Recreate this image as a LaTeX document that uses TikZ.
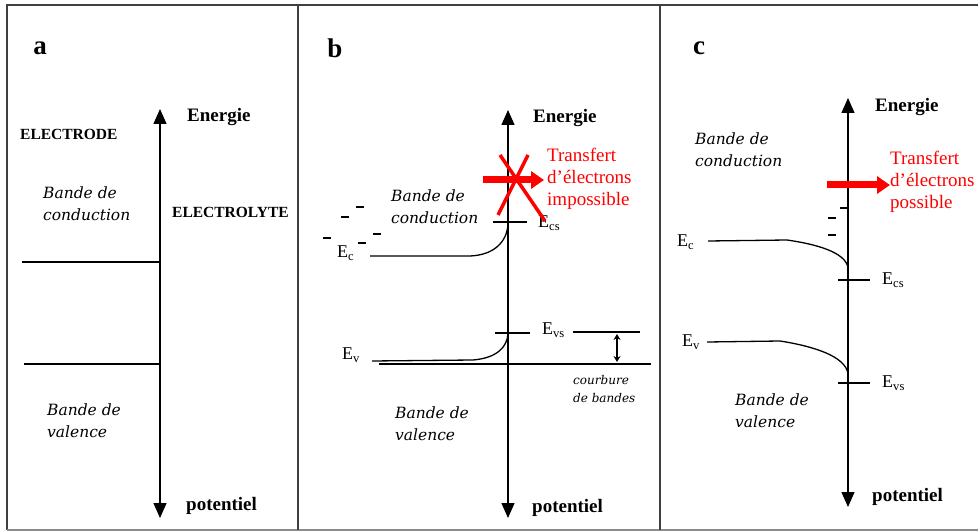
\documentclass[tikz,border=0pt]{standalone}
\usepackage{fontspec}
\setmainfont{Liberation Serif}
\newfontfamily\dvs{DejaVu Serif}
\usetikzlibrary{arrows.meta}
\begin{document}
\begin{tikzpicture}[x=1pt,y=-1pt,
  frame/.style={line width=1.3pt, draw=black!75},
  axis/.style={line width=1.4pt, {Triangle[width=13pt,length=15pt]}-{Triangle[width=13pt,length=15pt]}},
  band/.style={line width=1.3pt},
  tick/.style={line width=1.2pt},
  panel/.style={font=\fontsize{27}{28}\selectfont\bfseries, inner sep=0},
  axlbl/.style={font=\fontsize{19}{22}\selectfont\bfseries, anchor=west, inner sep=0},
  caps/.style={font=\fontsize{15.5}{18}\selectfont\bfseries, anchor=west, inner sep=0},
  itl/.style={font=\dvs\itshape\fontsize{15.5}{22}\selectfont, anchor=west, inner sep=0, align=left},
  small/.style={font=\dvs\itshape\fontsize{12}{18}\selectfont, anchor=west, inner sep=0, align=left},
  elbl/.style={font=\fontsize{18}{20}\selectfont, anchor=west, inner sep=0},
  redtxt/.style={font=\fontsize{19}{22}\selectfont, text=red, anchor=west, inner sep=0, align=left},
  redarrow/.style={draw=red, line width=7pt, -{Triangle[width=17pt,length=13pt]}},
  cross/.style={draw=red, line width=3.5pt},
  minus/.style={line width=1.3pt}
]
\useasboundingbox (0,0) rectangle (978,532);

% frame
\draw[frame] (7,530) -- (7,5) -- (978,5);
\draw[frame, draw=black!45] (7,530) -- (978,530);
\draw[frame] (298,5) -- (298,530);
\draw[frame] (660,5) -- (660,530);

% ================= panel a =================
\node[panel] (la) at (40,48) {a};
\coordinate (aT) at (160,109);
\coordinate (aB) at (160,518);
\draw[axis] (aT) -- (aB);
\node[axlbl] (aE) at (187,117) {Energie};
\node[axlbl] (aP) at (186,506) {potentiel};
\node[caps] (aEl) at (20,134) {ELECTRODE};
\node[caps] (aEy) at (172,212) {ELECTROLYTE};
\node[itl] (aBc) at (43,204) {Bande de\\conduction};
\node[itl] (aBv) at (47,421) {Bande de\\valence};
\coordinate (ac1) at (22,262); \coordinate (ac2) at (160,262);
\coordinate (av1) at (24,364); \coordinate (av2) at (160,364);
\draw[band] (ac1) -- (ac2);
\draw[band] (av1) -- (av2);

% ================= panel b =================
\node[panel] (lb) at (335,48) {b};
\coordinate (bT) at (508,110);
\coordinate (bB) at (508,518);
\draw[axis] (bT) -- (bB);
\node[axlbl] (bE) at (533,118) {Energie};
\node[axlbl] (bP) at (532,508) {potentiel};
\node[itl] (bBc) at (391,207) {Bande de\\conduction};
\node[itl] (bBv) at (395,424) {Bande de\\valence};
\node[small] (bCb) at (573,389) {courbure\\de bandes};
\node[redtxt] (bTr) at (547,179) {Transfert\\d’électrons\\impossible};
% conduction band
\coordinate (bc0) at (370,256); \coordinate (bc1) at (470,256); \coordinate (bcs) at (508,224);
\draw[band] (bc0) -- (bc1) .. controls (494,255) and (507,242) .. (bcs);
\coordinate (bk1) at (493,222); \coordinate (bk2) at (527,222);
\draw[tick] (bk1) -- (bk2);
\node[elbl] (bEcs) at (538,223) {E\textsubscript{cs}};
\node[elbl] (bEc) at (337,253) {E\textsubscript{c}};
% minus signs
\foreach \x/\y [count=\i] in {356/207, 341/217, 323/238, 358/243, 373/234} {
  \coordinate (bm\i a) at (\x,\y); \coordinate (bm\i b) at (\x+8,\y);
  \draw[minus] (bm\i a) -- (bm\i b);
}
% valence band
\coordinate (bv0) at (372,361); \coordinate (bv1) at (473,360); \coordinate (bvs) at (508,334);
\draw[band] (bv0) -- (bv1) .. controls (497,358) and (507,347) .. (bvs);
\coordinate (bq1) at (495,333); \coordinate (bq2) at (530,333);
\draw[tick] (bq1) -- (bq2);
\node[elbl] (bEvs) at (542,330) {E\textsubscript{vs}};
\node[elbl] (bEv) at (342,355) {E\textsubscript{v}};
\coordinate (br1) at (573,332); \coordinate (br2) at (640,332);
\draw[tick] (br1) -- (br2);
\coordinate (bl1) at (379,364); \coordinate (bl2) at (651,364);
\draw[tick] (bl1) -- (bl2);
\coordinate (bd1) at (617,334); \coordinate (bd2) at (617,362);
\draw[line width=1.2pt, {Stealth[length=6pt,width=7pt]}-{Stealth[length=6pt,width=7pt]}] (bd1) -- (bd2);
% red arrow and cross
\coordinate (bra) at (483,180); \coordinate (brb) at (544,180);
\draw[redarrow] (bra) -- (brb);
\coordinate (bx1) at (500,155); \coordinate (bx2) at (545,221);
\coordinate (bx3) at (528,155); \coordinate (bx4) at (498,215);
\draw[cross] (bx1) -- (bx2);
\draw[cross] (bx3) -- (bx4);

% ================= panel c =================
\node[panel] (lc) at (699,48) {c};
\coordinate (cT) at (848,98);
\coordinate (cB) at (848,507);
\draw[axis] (cT) -- (cB);
\node[axlbl] (cE) at (875,107) {Energie};
\node[axlbl] (cP) at (872,497) {potentiel};
\node[itl] (cBc) at (695,150) {Bande de\\conduction};
\node[itl] (cBv) at (735,411) {Bande de\\valence};
\node[redtxt] (cTr) at (890,182) {Transfert\\d’électrons\\possible};
\coordinate (cra) at (827,185); \coordinate (crb) at (890,185);
\draw[redarrow] (cra) -- (crb);
% conduction band
\coordinate (cc0) at (708,241); \coordinate (cc1) at (787,240); \coordinate (ccs) at (848,268);
\draw[band] (cc0) -- (cc1) .. controls (815,244) and (846,252) .. (ccs);
\node[elbl] (cEc) at (677,242) {E\textsubscript{c}};
\coordinate (ck1) at (838,280); \coordinate (ck2) at (870,280);
\draw[tick] (ck1) -- (ck2);
\node[elbl] (cEcs) at (882,280) {E\textsubscript{cs}};
\foreach \x/\y [count=\i] in {840/208, 828/218, 828/235} {
  \coordinate (cm\i a) at (\x,\y); \coordinate (cm\i b) at (\x+8,\y);
  \draw[minus] (cm\i a) -- (cm\i b);
}
% valence band
\coordinate (cv0) at (707,342); \coordinate (cv1) at (780,341); \coordinate (cvs) at (848,374);
\draw[band] (cv0) -- (cv1) .. controls (812,346) and (846,356) .. (cvs);
\node[elbl] (cEv) at (682,342) {E\textsubscript{v}};
\coordinate (cq1) at (838,383); \coordinate (cq2) at (870,383);
\draw[tick] (cq1) -- (cq2);
\node[elbl] (cEvs) at (882,383) {E\textsubscript{vs}};
\end{tikzpicture}
\end{document}
